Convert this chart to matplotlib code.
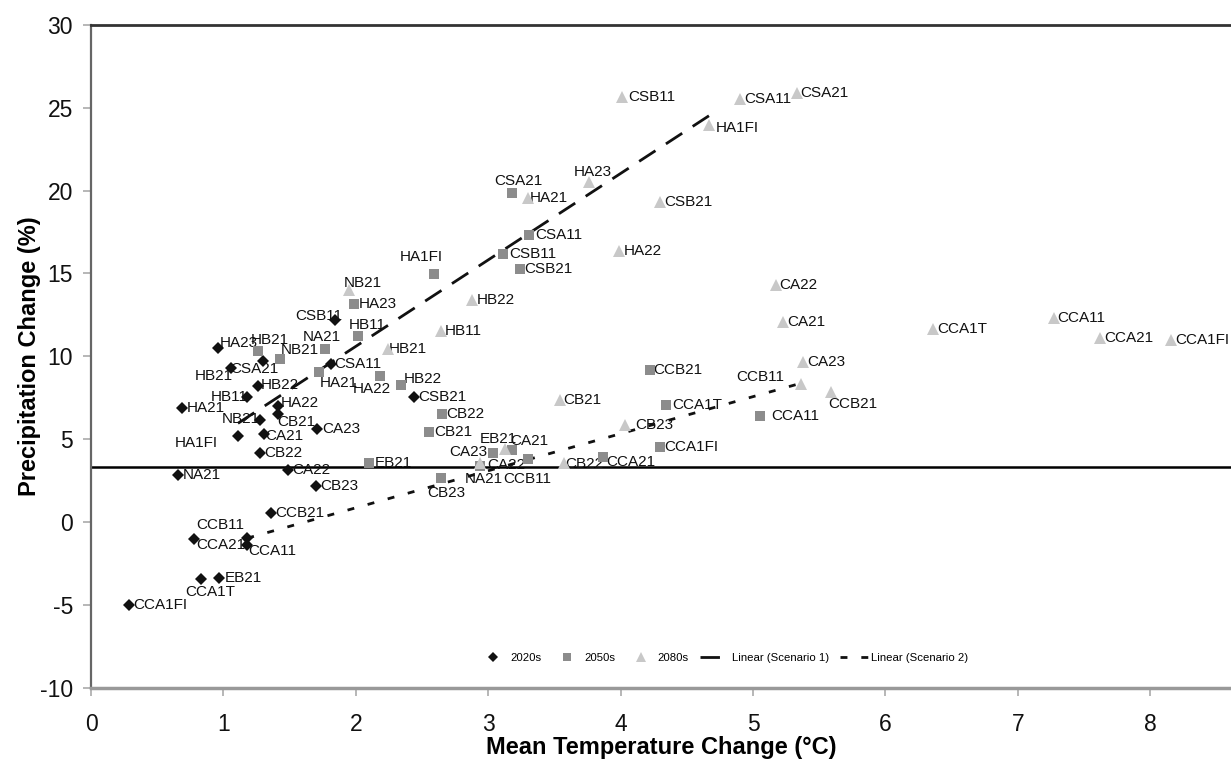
import matplotlib
matplotlib.use("Agg")
import matplotlib.pyplot as plt
import numpy as np

plt.rcParams["font.family"] = ["Liberation Sans", "DejaVu Sans"]
plt.rcParams["axes.unicode_minus"] = False

SITES = ["HA21", "HA22", "HA23", "HA1FI", "HB11", "HB21", "HB22", "NA21", "NB21",
         "CSA11", "CSA21", "CSB11", "CSB21", "CA21", "CA22", "CA23", "CB21", "CB22",
         "CB23", "CCA11", "CCA21", "CCA1T", "CCA1FI", "CCB11", "CCB21", "EB21"]

# mean temperature change (deg C) and precipitation change (%) per period
temp_2020 = [0.69, 1.41, 0.96, 1.11, 1.18, 1.06, 1.26, 0.66, 1.28,
             1.81, 1.30, 1.84, 2.44, 1.31, 1.49, 1.71, 1.41, 1.28,
             1.70, 1.18, 0.78, 0.83, 0.29, 1.18, 1.36, 0.97]
prec_2020 = [6.89, 6.99, 10.52, 5.20, 7.55, 9.32, 8.19, 2.83, 6.19,
             9.56, 9.72, 12.21, 7.55, 5.34, 3.17, 5.60, 6.51, 4.17,
             2.19, -1.39, -1.02, -3.45, -5.00, -0.98, 0.58, -3.36]

temp_2050 = [1.72, 2.18, 1.99, 2.59, 2.02, 1.26, 2.34, 1.77, 1.43,
             3.31, 3.18, 3.11, 3.24, 3.18, 2.94, 3.04, 2.55, 2.65,
             2.64, 5.05, 3.87, 4.34, 4.30, 3.30, 4.22, 2.10]
prec_2050 = [9.05, 8.80, 13.17, 14.98, 11.20, 10.30, 8.25, 10.46, 9.86,
             17.33, 19.84, 16.19, 15.24, 4.38, 3.37, 4.20, 5.44, 6.55,
             2.65, 6.39, 3.92, 7.09, 4.52, 3.80, 9.16, 3.55]

temp_2080 = [3.30, 3.99, 3.76, 4.67, 2.64, 2.24, 2.88, 2.94, 1.95,
             4.90, 5.33, 4.01, 4.30, 5.23, 5.17, 5.38, 3.54, 3.57,
             4.03, 7.27, 7.62, 6.36, 8.16, 5.36, 5.59, 3.13]
prec_2080 = [19.56, 16.34, 20.54, 23.98, 11.51, 10.46, 13.37, 3.57, 13.98,
             25.52, 25.89, 25.66, 19.30, 12.05, 14.28, 9.66, 7.35, 3.54,
             5.84, 12.31, 11.13, 11.67, 10.96, 8.36, 7.85, 4.44]

PERIODS = ["2020s", "2050s", "2080s"]
SCENARIO_SITES = {"Linear (Scenario 1)": "HA1FI", "Linear (Scenario 2)": "CCB11"}
BASELINE = 3.3

# label nudges in pixels (dx, dy), default is just right of the marker
label_shift = {
    ("2020s", "HA23"): (2, 5), ("2020s", "CSA21"): (-33, -8), ("2020s", "HB21"): (-37, -8),
    ("2020s", "HB22"): (3, 1), ("2020s", "HB11"): (-36, 0), ("2020s", "HA22"): (3, 3),
    ("2020s", "CB21"): (0, -8), ("2020s", "NB21"): (-39, 1), ("2020s", "HA1FI"): (-63, -7),
    ("2020s", "CA21"): (1, -2), ("2020s", "CSB11"): (-39, 4), ("2020s", "CCA21"): (2, -6),
    ("2020s", "CCB11"): (-51, 13), ("2020s", "CCA11"): (1, -6), ("2020s", "CCA1T"): (-16, -13),
    ("2020s", "CA23"): (5, 0), ("2020s", "EB21"): (5, 0),
    ("2050s", "HB21"): (-7, 11), ("2050s", "NB21"): (0, 9), ("2050s", "NA21"): (-23, 12),
    ("2050s", "HB11"): (-10, 11), ("2050s", "HA21"): (1, -11), ("2050s", "HA22"): (-27, -13),
    ("2050s", "HB22"): (3, 6), ("2050s", "CB21"): (6, 0), ("2050s", "HA1FI"): (-34, 17),
    ("2050s", "EB21"): (6, 0), ("2050s", "CB23"): (-13, -15), ("2050s", "CA23"): (-44, 1),
    ("2050s", "CA21"): (-2, 9), ("2050s", "CCB11"): (-25, -20), ("2050s", "CA22"): (7, 1),
    ("2050s", "CSA21"): (-18, 12), ("2050s", "CSA11"): (6, 0), ("2050s", "CSB11"): (6, 0),
    ("2050s", "CCA1T"): (7, 0), ("2050s", "CCA11"): (12, 0), ("2050s", "CCA21"): (3, -5),
    ("2080s", "NB21"): (-5, 7), ("2080s", "HA23"): (-15, 10), ("2080s", "HA1FI"): (6, -3),
    ("2080s", "CSB11"): (6, 0), ("2080s", "CCB11"): (-64, 7), ("2080s", "CCB21"): (-3, -12),
    ("2080s", "CB23"): (11, 0), ("2080s", "EB21"): (-26, 10), ("2080s", "NA21"): (-16, -16),
    ("2080s", "HB21"): (1, 0), ("2080s", "HA21"): (2, 0), ("2080s", "CB22"): (2, -1),
}

styles = {
    "2020s": dict(marker="D", color="#111111", ms=6.0),
    "2050s": dict(marker="s", color="#8c8c8c", ms=7.2),
    "2080s": dict(marker="^", color="#c8c8c8", ms=8.5),
}

data = {
    "2020s": (temp_2020, prec_2020),
    "2050s": (temp_2050, prec_2050),
    "2080s": (temp_2080, prec_2080),
}

fig = plt.figure(figsize=(12.31, 7.59), dpi=100)
ax = fig.add_axes([91 / 1231, 1 - 688 / 759, 1140 / 1231, 663.3 / 759])

handles = []
for period in PERIODS:
    xs, ys = data[period]
    st = styles[period]
    h, = ax.plot(xs, ys, linestyle="none", marker=st["marker"], color=st["color"],
                 markersize=st["ms"], markeredgewidth=0, label=period, zorder=4)
    handles.append(h)
    for name, x, y in zip(SITES, xs, ys):
        dx, dy = label_shift.get((period, name), (4, 0))
        ax.annotate(name, (x, y), xytext=(dx, dy), textcoords="offset pixels",
                    ha="left", va="center", fontsize=11, color="#111111",
                    zorder=3, annotation_clip=False)

ax.axhline(BASELINE, color="black", lw=1.8, zorder=2)

# linear trendlines through the three periods of one site
line_styles = {"Linear (Scenario 1)": (0, (7, 4.5)), "Linear (Scenario 2)": (0, (2.5, 5))}
for label, site in SCENARIO_SITES.items():
    i = SITES.index(site)
    px = np.array([data[p][0][i] for p in PERIODS])
    py = np.array([data[p][1][i] for p in PERIODS])
    k, b = np.polyfit(px, py, 1)
    xx = np.array([px.min(), px.max()])
    h, = ax.plot(xx, k * xx + b, color="#111111", lw=2, linestyle=line_styles[label],
                 label=label, zorder=3)
    handles.append(h)

ax.set_xlim(0, 1140 / 132.4)
ax.set_ylim(-10, 30)
ax.set_xticks(range(0, 9))
ax.set_yticks(range(-10, 31, 5))

ax.spines["right"].set_visible(False)
ax.spines["top"].set_color("#333333")
ax.spines["top"].set_linewidth(2)
ax.spines["left"].set_color("#666666")
ax.spines["left"].set_linewidth(1.6)
ax.spines["bottom"].set_color("#999999")
ax.spines["bottom"].set_linewidth(2.5)

ax.tick_params(axis="both", direction="out", colors="#aaaaaa", labelcolor="#111111",
               labelsize=16.5, length=6, width=1.2)
ax.tick_params(axis="x", pad=12)
ax.tick_params(axis="y", pad=7)

ax.set_xlabel("Mean Temperature Change (°C)", fontsize=17, fontweight="bold", labelpad=0)
ax.set_ylabel("Precipitation Change (%)", fontsize=17, fontweight="bold", labelpad=-1)

ax.legend(handles=handles, loc="lower center", bbox_to_anchor=(0.555, 0.022), ncol=5,
          frameon=False, fontsize=8.2, handlelength=2.5, columnspacing=1.0,
          handletextpad=0.25, markerscale=0.8)

fig.savefig("out.png", dpi=100)
